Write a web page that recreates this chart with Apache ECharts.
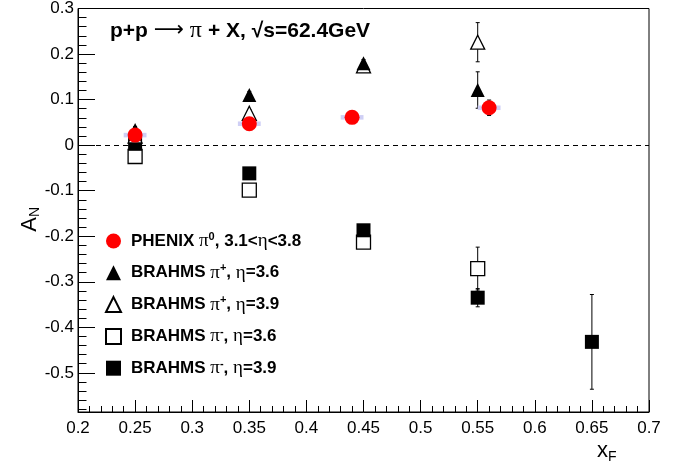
<!DOCTYPE html>
<html><head><meta charset="utf-8">
<script src="https://cdn.jsdelivr.net/npm/echarts@6/dist/echarts.min.js"></script>
<style>html,body{margin:0;padding:0;background:#fff}#c{width:683px;height:470px}</style>
</head><body><div id="c"></div>
<script>
// ---- data ----
const phenixX = [0.25, 0.35, 0.44, 0.56];
const phenixY = [0.022, 0.047, 0.061, 0.082];
const phenixErr = [0.005, 0.005, 0.005, 0.017];
const phenixSys = [0.005, 0.005, 0.005, 0.005];

const piPlus36X = [0.25, 0.35, 0.45, 0.55];
const piPlus36Y = [0.033, 0.11, 0.18, 0.121];
const piPlus36Err = [0.008, 0.008, 0.008, 0.04];

const piPlus39X = [0.25, 0.35, 0.45, 0.55];
const piPlus39Y = [0.02, 0.07, 0.174, 0.226];
const piPlus39Err = [0.008, 0.008, 0.008, 0.043];

const piMinus36X = [0.25, 0.35, 0.45, 0.55];
const piMinus36Y = [-0.025, -0.099, -0.213, -0.271];
const piMinus36Err = [0.008, 0.008, 0.008, 0.047];

const piMinus39X = [0.25, 0.35, 0.45, 0.55, 0.65];
const piMinus39Y = [0.003, -0.062, -0.187, -0.335, -0.432];
const piMinus39Err = [0.008, 0.008, 0.008, 0.02, 0.104];

const seriesNames = ['PHENIX pi0', 'BRAHMS pi+ 3.6', 'BRAHMS pi+ 3.9', 'BRAHMS pi- 3.6', 'BRAHMS pi- 3.9'];
const legendLabels = {
  'PHENIX pi0': '{b|PHENIX }{g|π}{sup|0}{b|, 3.1<}{g|η}{b|<3.8}',
  'BRAHMS pi+ 3.6': '{b|BRAHMS }{g|π}{sup|+}{b|, }{g|η}{b|=3.6}',
  'BRAHMS pi+ 3.9': '{b|BRAHMS }{g|π}{sup|+}{b|, }{g|η}{b|=3.9}',
  'BRAHMS pi- 3.6': '{b|BRAHMS }{g|π}{sup|-}{b|, }{g|η}{b|=3.6}',
  'BRAHMS pi- 3.9': '{b|BRAHMS }{g|π}{sup|-}{b|, }{g|η}{b|=3.9}'
};
const yTicks = [-0.5, -0.4, -0.3, -0.2, -0.1, 0, 0.1, 0.2, 0.3];
const yMinorTicks = [];
for (let i = -29; i <= 15; i++) { if (i % 5 !== 0) yMinorTicks.push(i * 0.02); }
const yMin = -0.586, yMax = 0.3;

// ---- helpers ----
function pts(xs, ys, es) { return xs.map((x, i) => [x, ys[i], es[i]]); }
function errRender(params, api) {
  const x = api.value(0), y = api.value(1), e = api.value(2);
  const t = api.coord([x, y + e]), b = api.coord([x, y - e]);
  const st = { stroke: '#000', lineWidth: 1 };
  const cap = 2;
  return { type: 'group', children: [
    { type: 'line', shape: { x1: t[0], y1: t[1], x2: b[0], y2: b[1] }, style: st },
    { type: 'line', shape: { x1: t[0] - cap, y1: t[1], x2: t[0] + cap, y2: t[1] }, style: st },
    { type: 'line', shape: { x1: b[0] - cap, y1: b[1], x2: b[0] + cap, y2: b[1] }, style: st }
  ]};
}
function sysRender(params, api) {
  const x = api.value(0), y = api.value(1), s = api.value(2);
  const p1 = api.coord([x - 0.01, y + s]), p2 = api.coord([x + 0.01, y - s]);
  return { type: 'rect', shape: { x: p1[0], y: p1[1], width: p2[0] - p1[0], height: p2[1] - p1[1] },
    style: { fill: '#cfcff5' } };
}
function errSeries(data, z) {
  return { type: 'custom', renderItem: errRender, data: data, z: z, silent: true,
    encode: { x: 0, y: 1 }, clip: false };
}
const F = 'Liberation Sans, Arial, sans-serif';
const G = 'Liberation Serif, serif';

const chart = echarts.init(document.getElementById('c'), null, { renderer: 'canvas' });
chart.setOption({
  animation: false,
  backgroundColor: '#fff',
  grid: { left: 78, right: 34, top: 8, bottom: 58, show: true, borderColor: '#000', borderWidth: 1, backgroundColor: 'transparent' },
  xAxis: {
    type: 'value', min: 0.2, max: 0.7, interval: 0.05,
    axisLine: { show: true, onZero: false, lineStyle: { color: '#000', width: 1 } },
    axisTick: { show: true, inside: true, length: 12, lineStyle: { color: '#000' } },
    minorTick: { show: true, splitNumber: 5, length: 6, lineStyle: { color: '#000' } },
    splitLine: { show: false },
    axisLabel: { color: '#000', fontFamily: F, fontSize: 17, margin: 8,
      formatter: v => String(+v.toFixed(2)) }
  },
  yAxis: [{
    type: 'value', min: yMin, max: yMax,
    axisLine: { show: true, onZero: false, lineStyle: { color: '#000', width: 1 } },
    axisTick: { show: true, inside: true, length: 17, customValues: yTicks, lineStyle: { color: '#000' } },
    splitLine: { show: false },
    axisLabel: { color: '#000', fontFamily: F, fontSize: 17, margin: 4, customValues: yTicks,
      formatter: v => String(+v.toFixed(1)) }
  }, {
    type: 'value', min: yMin, max: yMax, position: 'left', offset: 0,
    axisLine: { show: false },
    axisTick: { show: true, inside: true, length: 8.5, customValues: yMinorTicks, lineStyle: { color: '#000' } },
    splitLine: { show: false },
    axisLabel: { show: false }
  }],
  legend: {
    orient: 'vertical', left: 100, top: 226, itemWidth: 15, itemHeight: 15, itemGap: 12.3,
    data: seriesNames,
    formatter: name => legendLabels[name],
    textStyle: {
      padding: [0, 0, 0, 5],
      rich: {
        b: { fontFamily: F, fontWeight: 'bold', fontSize: 17, color: '#000' },
        g: { fontFamily: G, fontSize: 19, color: '#000' },
        sup: { fontFamily: F, fontWeight: 'bold', fontSize: 11, color: '#000', padding: [0, 0, 9, 0] }
      }
    }
  },
  graphic: [
    { type: 'text', left: 110, top: 19, z: 100,
      style: { text: '{b|p+p }{a|⟶}{g| π }{b|+ X, √s=62.4GeV}', rich: {
        b: { fontFamily: F, fontWeight: 'bold', fontSize: 21, fill: '#000' },
        a: { fontFamily: 'DejaVu Sans, sans-serif', fontSize: 21, fill: '#000' },
        g: { fontFamily: G, fontSize: 24, fill: '#000' } } } },
    { type: 'text', left: 19, top: 207, rotation: Math.PI / 2, z: 100,
      style: { text: '{a|A}{s|N}', rich: {
        a: { fontFamily: F, fontSize: 22, fill: '#000' },
        s: { fontFamily: F, fontSize: 14, fill: '#000', padding: [10, 0, 0, 0] } } } },
    { type: 'text', left: 597, top: 440, z: 100,
      style: { text: '{a|x}{s|F}', rich: {
        a: { fontFamily: F, fontSize: 22, fill: '#000' },
        s: { fontFamily: F, fontSize: 14, fill: '#000', padding: [12, 0, 0, 0] } } } }
  ],
  series: [
    { type: 'line', data: [], markLine: { silent: true, symbol: 'none', label: { show: false },
        lineStyle: { color: '#000', type: [5, 4], width: 1.2 }, data: [{ yAxis: 0 }] }, z: 1 },
    errSeries(pts(piMinus36X, piMinus36Y, piMinus36Err), 2),
    errSeries(pts(piMinus39X, piMinus39Y, piMinus39Err), 2),
    errSeries(pts(piPlus39X, piPlus39Y, piPlus39Err), 2),
    errSeries(pts(piPlus36X, piPlus36Y, piPlus36Err), 2),
    { type: 'custom', renderItem: sysRender, data: pts(phenixX, phenixY, phenixSys), z: 2, silent: true, encode: { x: 0, y: 1 } },
    errSeries(pts(phenixX, phenixY, phenixErr), 2),
    { name: seriesNames[3], type: 'scatter', symbol: 'rect', symbolSize: 14, z: 3,
      itemStyle: { color: '#fff', borderColor: '#000', borderWidth: 1.3, opacity: 1 },
      data: pts(piMinus36X, piMinus36Y, piMinus36Err) },
    { name: seriesNames[4], type: 'scatter', symbol: 'rect', symbolSize: 14, z: 4,
      itemStyle: { color: '#000', borderColor: '#000', borderWidth: 0, opacity: 1 },
      data: pts(piMinus39X, piMinus39Y, piMinus39Err) },
    { name: seriesNames[2], type: 'scatter', symbol: 'triangle', symbolSize: 14, z: 5,
      itemStyle: { color: '#fff', borderColor: '#000', borderWidth: 1.3, opacity: 1 },
      data: pts(piPlus39X, piPlus39Y, piPlus39Err) },
    { name: seriesNames[1], type: 'scatter', symbol: 'triangle', symbolSize: 14, z: 6,
      itemStyle: { color: '#000', borderColor: '#000', borderWidth: 0, opacity: 1 },
      data: pts(piPlus36X, piPlus36Y, piPlus36Err) },
    { name: seriesNames[0], type: 'scatter', symbol: 'circle', symbolSize: 15, z: 7,
      itemStyle: { color: '#ff0000', opacity: 1 },
      data: pts(phenixX, phenixY, phenixErr) }
  ]
});
</script></body></html>
